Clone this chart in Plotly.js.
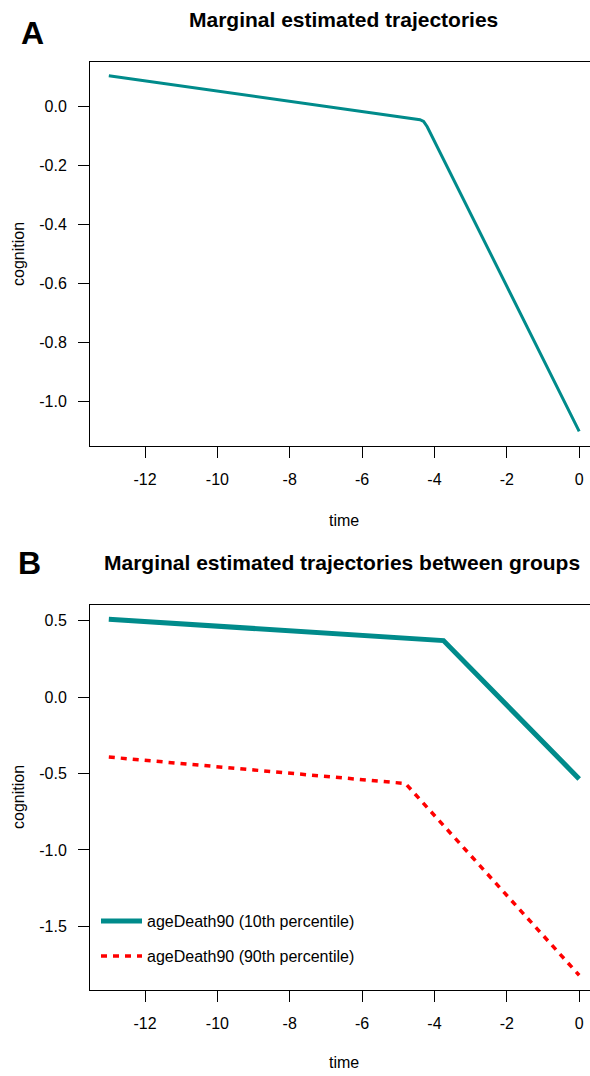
<!DOCTYPE html>
<html>
<head>
<meta charset="utf-8">
<script src="https://cdn.plot.ly/plotly-3.0.1.min.js"></script>
<style>
html,body{margin:0;padding:0;overflow:hidden;background:#fff;}
#chart{width:620px;height:1076px;}
</style>
</head>
<body>
<div id="chart"></div>
<script>
// Panel A: marginal estimated trajectory
const timeA = [-13, -4.4, -4.3, -4.2, 0];
const cognitionA = [0.105, -0.044, -0.050, -0.068, -1.10];

// Panel B: trajectories between groups
const timeB10 = [-13, -3.75, 0];
const cognitionB10 = [0.51, 0.37, -0.535];
const timeB90 = [-13, -4.8, 0];
const cognitionB90 = [-0.392, -0.565, -1.82];

const seriesNames = ["ageDeath90 (10th percentile)", "ageDeath90 (90th percentile)"];

const xTickVals = [-12, -10, -8, -6, -4, -2, 0];
const xTickText = ["-12", "-10", "-8", "-6", "-4", "-2", "0"];
const yATickVals = [0.0, -0.2, -0.4, -0.6, -0.8, -1.0];
const yATickText = ["0.0", "-0.2", "-0.4", "-0.6", "-0.8", "-1.0"];
const yBTickVals = [0.5, 0.0, -0.5, -1.0, -1.5];
const yBTickText = ["0.5", "0.0", "-0.5", "-1.0", "-1.5"];

const W = 620, H = 1076;
const FONT = "Liberation Sans, Arial, sans-serif";
const TEAL = "#008B8B";
const px = v => v / W;
const py = v => 1 - v / H;

const traces = [
  {x: timeA, y: cognitionA, xaxis: "x", yaxis: "y", mode: "lines",
   line: {color: TEAL, width: 3}, showlegend: false, hoverinfo: "skip"},
  {x: timeB10, y: cognitionB10, xaxis: "x2", yaxis: "y2", mode: "lines",
   name: seriesNames[0], legend: "legend",
   line: {color: TEAL, width: 5}, hoverinfo: "skip"},
  {x: timeB90, y: cognitionB90, xaxis: "x2", yaxis: "y2", mode: "lines",
   name: seriesNames[1], legend: "legend2",
   line: {color: "#FF0000", width: 3.5, dash: "6px,6px"}, hoverinfo: "skip"}
];

function xax(anchor) {
  return {
    anchor: anchor, domain: [px(90), px(598)], range: [-13.52, 0.52],
    showgrid: false, zeroline: false, showline: true, mirror: true,
    linecolor: "#000", linewidth: 1, ticks: "outside", ticklen: 11,
    tickcolor: "#000", tickwidth: 1, tickvals: xTickVals, ticktext: xTickText,
    ticklabelstandoff: 8, tickfont: {family: FONT, size: 16, color: "#000"}
  };
}
function yax(anchor, dom, rng, tv, tt) {
  return {
    anchor: anchor, domain: dom, range: rng,
    showgrid: false, zeroline: false, showline: true, mirror: true,
    linecolor: "#000", linewidth: 1, ticks: "outside", ticklen: 11,
    tickcolor: "#000", tickwidth: 1, tickvals: tv, ticktext: tt,
    ticklabelstandoff: 8, tickfont: {family: FONT, size: 16, color: "#000"}
  };
}

function ann(text, x, y, size, bold, angle) {
  return {text: bold ? "<b>" + text + "</b>" : text, xref: "paper", yref: "paper",
    x: px(x), y: py(y), xanchor: "center", yanchor: "middle", showarrow: false,
    textangle: angle || 0, font: {family: FONT, size: size, color: "#000"}};
}

const layout = {
  width: W, height: H,
  margin: {l: 0, r: 0, t: 0, b: 0},
  paper_bgcolor: "#fff", plot_bgcolor: "#fff",
  font: {family: FONT, color: "#000"},
  xaxis: xax("y"),
  yaxis: yax("x", [py(445.5), py(61.5)], [-1.148, 0.153], yATickVals, yATickText),
  xaxis2: xax("y2"),
  yaxis2: yax("x2", [py(989.5), py(605)], [-1.913, 0.603], yBTickVals, yBTickText),
  legend: {x: px(96), y: py(921), xanchor: "left", yanchor: "middle",
    bgcolor: "rgba(0,0,0,0)", borderwidth: 0, itemwidth: 41,
    font: {family: FONT, size: 16, color: "#000"}},
  legend2: {x: px(96), y: py(956), xanchor: "left", yanchor: "middle",
    bgcolor: "rgba(0,0,0,0)", borderwidth: 0, itemwidth: 41,
    font: {family: FONT, size: 16, color: "#000"}},
  annotations: [
    ann("A", 32, 33, 32, true),
    ann("Marginal estimated trajectories", 343, 20, 21, true),
    ann("time", 344, 520, 16),
    ann("cognition", 18, 254, 16, false, -90),
    ann("B", 29, 563, 32, true),
    ann("Marginal estimated trajectories between groups", 342, 562, 21, true),
    ann("time", 344, 1062, 16),
    ann("cognition", 18, 797, 16, false, -90)
  ]
};

Plotly.newPlot("chart", traces, layout, {staticPlot: true, displayModeBar: false});
</script>
</body>
</html>
